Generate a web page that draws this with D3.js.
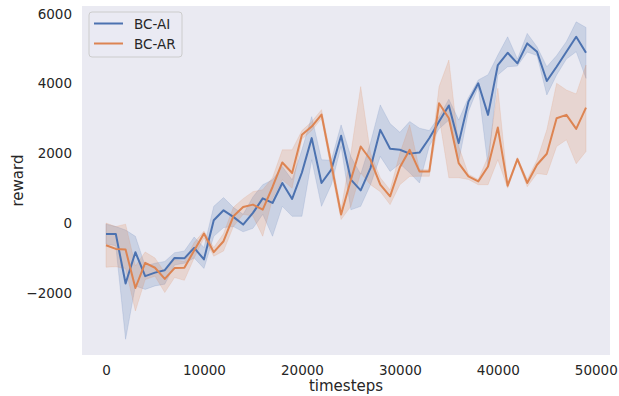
<!DOCTYPE html>
<html>
<head>
<meta charset="utf-8">
<script src="https://cdn.jsdelivr.net/npm/d3@7"></script>
<style>
  body { margin: 0; background: #fff; }
  text { font-family: "DejaVu Sans", sans-serif; fill: #262626; }
</style>
</head>
<body>
<script>
const steps = d3.range(0, 50000, 1000);

const aiMean = [-310, -310, -1730, -834, -1520, -1420, -1350, -1000, -1010, -710,
  -1040, 80, 366, 177, -43, 291, 709, 577, 1149, 691,
  1450, 2434, 1149, 1529, 2500, 1243, 937, 1577, 2671, 2130,
  2100, 1990, 2020, 2430, 2910, 3370, 2291, 3480, 4005, 3100,
  4529, 4880, 4577, 5148, 4910, 4071, 4480, 4910, 5337, 4880];
const aiLo = [-600, -650, -3330, -1800, -1900, -1800, -1750, -1200, -1150, -1000,
  -1300, -380, -130, -100, -250, -150, 250, -377, 480, 194,
  194, 1814, 480, 1100, 2194, 380, 480, 1100, 1910, 1480,
  1700, 1440, 1150, 2200, 2700, 2950, 1750, 3200, 3900, 1620,
  4243, 4480, 4500, 4900, 4800, 3671, 4243, 4700, 4910, 4148];
const aiHi = [-30, -100, -200, -380, -1230, -1150, -1100, -850, -800, -400,
  -700, 480, 730, 450, 250, 750, 1100, 1240, 1620, 1240,
  2100, 3050, 1814, 1800, 2814, 1900, 1400, 2300, 3386, 2850,
  2600, 2910, 2720, 2650, 3050, 3550, 2950, 3600, 4100, 4250,
  4814, 5337, 4700, 5434, 5050, 4480, 4800, 5200, 5766, 5605];

const arMean = [-634, -740, -760, -1860, -1140, -1280, -1600, -1290, -1280, -786,
  -300, -834, -520, 194, 463, 529, 386, 1034, 1737, 1434,
  2529, 2766, 3110, 1690, 243, 1243, 2194, 1814, 1100, 766,
  1600, 2100, 1480, 1480, 3434, 3005, 1720, 1337, 1194, 1623,
  2737, 1071, 1834, 1149, 1671, 1986, 3005, 3100, 2700, 3309];
const arLo = [-1263, -1250, -1300, -2520, -1620, -1520, -1990, -1560, -1640, -1000,
  -430, -950, -800, -100, 250, 200, -377, 700, 1240, 1000,
  2400, 2650, 3000, 1500, 100, 480, 1434, 1100, 900, 529,
  1100, 1337, 1340, 1340, 3050, 1300, 1300, 1250, 1100, 1100,
  1814, 1000, 1780, 1040, 1420, 1386, 2194, 2386, 1700, 2052];
const arHi = [0, -100, -30, -1230, -830, -1000, -1420, -1050, -1100, -560,
  -230, -700, -300, 450, 700, 900, 957, 1300, 2100, 2100,
  2650, 2900, 3250, 1850, 400, 2000, 3910, 2000, 1300, 950,
  2000, 2814, 1530, 1530, 3910, 4671, 2200, 1400, 1250, 1900,
  3862, 1120, 1880, 1250, 1810, 2671, 4005, 3814, 3700, 4529];

const seriesNames = ["BC-AI", "BC-AR"];
const xTicks = [0, 10000, 20000, 30000, 40000, 50000];
const yTicks = [-2000, 0, 2000, 4000, 6000];

const W = 619, H = 396;
const L = 82, R = 610, T = 6, B = 355;

const svg = d3.select("body").append("svg")
  .attr("width", W)
  .attr("height", H);

const x = d3.scaleLinear().domain([-2450, 51450]).range([L, R]);
const y = d3.scaleLinear().domain([-3780, 6220]).range([B, T]);

svg.append("rect")
  .attr("x", L).attr("y", T)
  .attr("width", R - L).attr("height", B - T)
  .attr("fill", "#EAEAF2");

const series = [
  { name: seriesNames[0], mean: aiMean, lo: aiLo, hi: aiHi, color: "#4C72B0" },
  { name: seriesNames[1], mean: arMean, lo: arLo, hi: arHi, color: "#DD8452" }
];

const area = d3.area()
  .x(d => x(d.t))
  .y0(d => y(d.lo))
  .y1(d => y(d.hi));

const line = d3.line()
  .x(d => x(d.t))
  .y(d => y(d.m));

const plot = svg.append("g");

series.forEach(s => {
  const pts = steps.map((t, i) => ({ t: t, m: s.mean[i], lo: s.lo[i], hi: s.hi[i] }));
  s.pts = pts;
  plot.append("path")
    .datum(pts)
    .attr("d", area)
    .attr("fill", s.color)
    .attr("fill-opacity", 0.2)
    .attr("stroke", s.color)
    .attr("stroke-opacity", 0.2)
    .attr("stroke-width", 0.8);
});

series.forEach(s => {
  plot.append("path")
    .datum(s.pts)
    .attr("d", line)
    .attr("fill", "none")
    .attr("stroke", s.color)
    .attr("stroke-width", 2)
    .attr("stroke-linejoin", "round");
});

// axes without tick marks or domain lines (seaborn "dark" style)
const xAxis = svg.append("g")
  .attr("transform", `translate(0,${B})`)
  .call(d3.axisBottom(x).tickValues(xTicks).tickSize(0).tickPadding(10).tickFormat(d3.format("d")));
xAxis.select(".domain").remove();
xAxis.selectAll("text").style("font-size", "13.5px").style("fill", "#262626");

const yAxis = svg.append("g")
  .attr("transform", `translate(${L},0)`)
  .call(d3.axisLeft(y).tickValues(yTicks).tickSize(0).tickPadding(10).tickFormat(d => d < 0 ? "\u2212" + Math.abs(d) : d));
yAxis.select(".domain").remove();
yAxis.selectAll("text").style("font-size", "13.5px").style("fill", "#262626");

svg.append("text")
  .attr("x", (L + R) / 2)
  .attr("y", 391)
  .attr("text-anchor", "middle")
  .style("font-size", "15px")
  .text("timesteps");

svg.append("text")
  .attr("transform", `translate(23,${(T + B) / 2}) rotate(-90)`)
  .attr("text-anchor", "middle")
  .style("font-size", "15px")
  .text("reward");

// legend
const legend = svg.append("g");
legend.append("rect")
  .attr("x", 89).attr("y", 12)
  .attr("width", 93).attr("height", 45)
  .attr("rx", 3)
  .attr("fill", "#EAEAF2")
  .attr("fill-opacity", 0.8)
  .attr("stroke", "#cccccc")
  .attr("stroke-width", 1);

series.forEach((s, i) => {
  const ly = 23.5 + i * 20;
  legend.append("line")
    .attr("x1", 94).attr("x2", 123)
    .attr("y1", ly).attr("y2", ly)
    .attr("stroke", s.color)
    .attr("stroke-width", 2);
  legend.append("text")
    .attr("x", 134).attr("y", ly + 5)
    .style("font-size", "13.5px")
    .text(s.name);
});
</script>
</body>
</html>
